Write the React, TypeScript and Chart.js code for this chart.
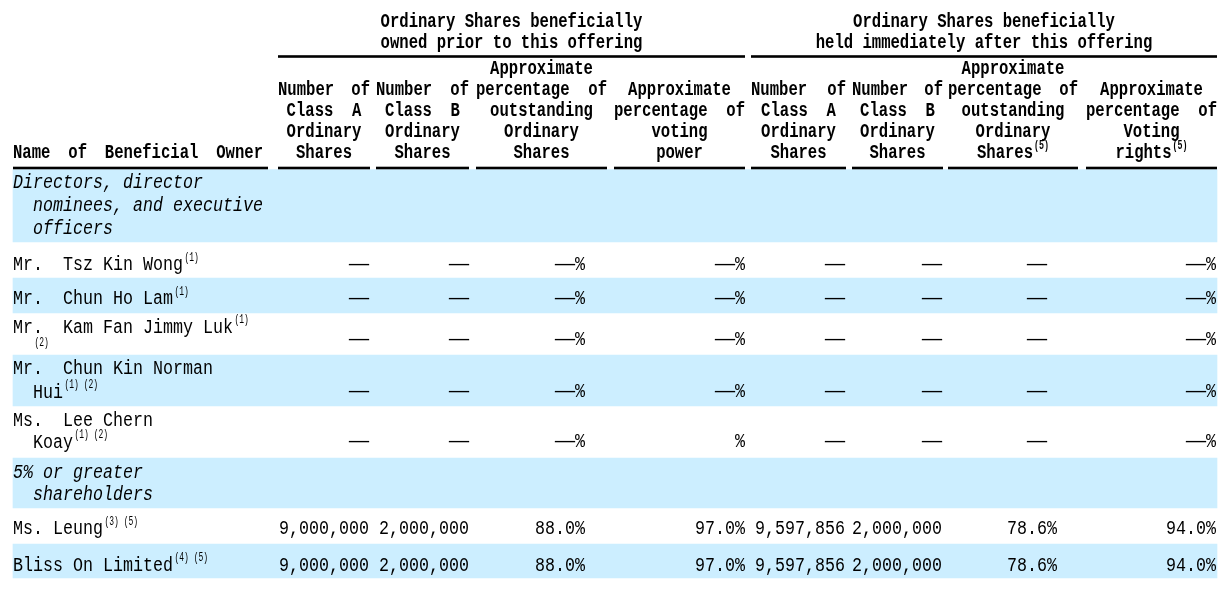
import React, { useEffect, useRef } from "react";
import { Chart, registerables } from "chart.js";

Chart.register(...registerables);

// ---------- DATA ----------
const groupTitles: string[][] = [
  ["Ordinary Shares beneficially", "owned prior to this offering"],
  ["Ordinary Shares beneficially", "held immediately after this offering"],
];

const columnTitles: string[][] = [
  ["Name of Beneficial Owner"],
  ["Number of", "Class  A", "Ordinary", "Shares"],
  ["Number of", "Class  B", "Ordinary", "Shares"],
  ["Approximate", "percentage of", "outstanding", "Ordinary", "Shares"],
  ["Approximate", "percentage of", "voting", "power"],
  ["Number of", "Class  A", "Ordinary", "Shares"],
  ["Number of", "Class  B", "Ordinary", "Shares"],
  ["Approximate", "percentage of", "outstanding", "Ordinary", "Shares"],
  ["Approximate", "percentage of", "Voting", "rights"],
];
const columnNotes: string[] = ["", "", "", "", "", "", "", "(5)", "(5)"];
const justifiedTitles: string[] = ["Name of Beneficial Owner", "Number of", "percentage of"];

const ownerNames: string[][] = [
  ["Directors, director", "  nominees, and executive", "  officers"],
  ["Mr.  Tsz Kin Wong"],
  ["Mr.  Chun Ho Lam"],
  ["Mr.  Kam Fan Jimmy Luk", "  "],
  ["Mr.  Chun Kin Norman", "  Hui"],
  ["Ms.  Lee Chern", "  Koay"],
  ["5% or greater", "  shareholders"],
  ["Ms. Leung"],
  ["Bliss On Limited"],
];
const ownerNotes: string[][] = [
  [],
  ["(1)"],
  ["(1)"],
  ["(1)", "(2)"],
  ["", "(1) (2)"],
  ["", "(1) (2)"],
  [],
  ["(3) (5)"],
  ["(4) (5)"],
];
const sectionRows: number[] = [0, 6];
const shadedRows: number[] = [0, 2, 4, 6, 8];

const ownerValues: string[][] = [
  [],
  ["—", "—", "—%", "—%", "—", "—", "—", "—%"],
  ["—", "—", "—%", "—%", "—", "—", "—", "—%"],
  ["—", "—", "—%", "—%", "—", "—", "—", "—%"],
  ["—", "—", "—%", "—%", "—", "—", "—", "—%"],
  ["—", "—", "—%", "%", "—", "—", "—", "—%"],
  [],
  ["9,000,000", "2,000,000", "88.0%", "97.0%", "9,597,856", "2,000,000", "78.6%", "94.0%"],
  ["9,000,000", "2,000,000", "88.0%", "97.0%", "9,597,856", "2,000,000", "78.6%", "94.0%"],
];

// ---------- LAYOUT (page pixel units) ----------
const PAGE = { left: 8, top: 8, width: 1211, height: 579 };
const tableSpan = [13, 1217];
const colSpans: number[][] = [
  [13, 268], [278, 370], [376, 469], [476, 607], [614, 745],
  [751, 846], [852, 943], [948, 1078], [1086, 1217],
];
const groupSpans: number[][] = [[278, 745], [751, 1217]];
const groupLineY = [20, 41];
const groupRuleY = 56.5;
const headRuleY = 168;
const ruleWidth = 2.6;
const headLastLineY = 151.5;
const headLineStep = 21;
const rowEdges = [169.5, 242, 278, 313, 355, 406, 458, 508, 544, 578];
const rowLineY: number[][] = [
  [181, 204, 227], [263.5], [297.5], [326, 348.5], [367.5, 391],
  [419, 441], [471, 493], [527.5], [564],
];
const rowValueY = [0, 263.5, 297.5, 338, 390, 440.5, 0, 527.5, 564];
const valueRight = [369, 469, 585, 745, 845, 942, 1057, 1216];
const percentCols = [false, false, true, true, false, false, true, true];
const nameLeft = 13;
const BAND_COLOR = "#cceeff";

type Spec = { size: number; cell: number; weight: string; style: string };
const BODY: Spec = { size: 20, cell: 10, weight: "normal", style: "normal" };
const BODY_IT: Spec = { size: 20, cell: 10, weight: "normal", style: "italic" };
const HEAD: Spec = { size: 20, cell: 9.35, weight: "bold", style: "normal" };
const SUP: Spec = { size: 12, cell: 4.8, weight: "normal", style: "normal" };
const HSUP: Spec = { size: 12, cell: 5, weight: "bold", style: "normal" };

const FAMILY = '"Liberation Mono", "DejaVu Sans Mono", monospace';

function fontOf(s: Spec) {
  return `${s.style} ${s.weight} ${s.size}px ${FAMILY}`;
}
function cells(s: string) {
  let n = 0;
  for (const ch of s) n += ch === "—" ? 2 : 1;
  return n;
}
function runWidth(s: string, spec: Spec) {
  return cells(s) * spec.cell;
}
function drawRun(ctx: CanvasRenderingContext2D, s: string, x: number, base: number, spec: Spec) {
  ctx.font = fontOf(spec);
  let cx = x;
  const parts = s.split(/(—)/).filter((p) => p.length > 0);
  for (const p of parts) {
    const w = runWidth(p, spec);
    const nat = ctx.measureText(p).width;
    if (nat > 0 && p.trim().length > 0) {
      ctx.save();
      ctx.translate(cx, base);
      ctx.scale(w / nat, 1);
      ctx.fillText(p, 0, 0);
      ctx.restore();
    }
    cx += w;
  }
  return cx;
}
function capBase(ctx: CanvasRenderingContext2D, center: number, spec: Spec) {
  ctx.font = fontOf(spec);
  const m = ctx.measureText("H");
  return center + m.actualBoundingBoxAscent / 2;
}
function supBase(ctx: CanvasRenderingContext2D, center: number, spec: Spec) {
  ctx.font = fontOf(spec);
  const m = ctx.measureText("(1)");
  return center + (m.actualBoundingBoxAscent - m.actualBoundingBoxDescent) / 2;
}

const tablePlugin = {
  id: "tableText",
  afterDatasetsDraw(chart: any) {
    const ctx: CanvasRenderingContext2D = chart.ctx;
    const xs = chart.scales.x;
    const ys = chart.scales.y;
    const X = (v: number) => xs.getPixelForValue(v);
    const Y = (v: number) => ys.getPixelForValue(v);
    ctx.save();
    ctx.fillStyle = "#000";
    ctx.textAlign = "left";
    ctx.textBaseline = "alphabetic";

    const rule = (a: number, b: number, y: number) => {
      ctx.fillRect(X(a), Y(y) - ruleWidth / 2, X(b) - X(a), ruleWidth);
    };
    groupSpans.forEach(([a, b]) => rule(a, b, groupRuleY));
    colSpans.forEach(([a, b]) => rule(a, b, headRuleY));

    groupTitles.forEach((lines, g) => {
      const [a, b] = groupSpans[g];
      const mid = (X(a) + X(b)) / 2;
      lines.forEach((line, k) => {
        const w = runWidth(line, HEAD);
        drawRun(ctx, line, mid - w / 2, capBase(ctx, Y(groupLineY[k]), HEAD), HEAD);
      });
    });

    columnTitles.forEach((lines, c) => {
      const [a, b] = colSpans[c];
      const left = X(a);
      const right = c === 0 ? X(b) - 5 : X(b);
      const n = lines.length;
      lines.forEach((line, k) => {
        const cy = Y(headLastLineY - (n - 1 - k) * headLineStep);
        const base = capBase(ctx, cy, HEAD);
        if (justifiedTitles.includes(line)) {
          const words = line.split(/\s+/);
          const total = words.reduce((s, w) => s + runWidth(w, HEAD), 0);
          const gap = (right - left - total) / (words.length - 1);
          let x = left;
          words.forEach((w) => {
            drawRun(ctx, w, x, base, HEAD);
            x += runWidth(w, HEAD) + gap;
          });
        } else {
          const note = k === n - 1 ? columnNotes[c] : "";
          const w = runWidth(line, HEAD) + (note ? runWidth(note, HSUP) + 1 : 0);
          const x0 = (left + right) / 2 - w / 2;
          const end = drawRun(ctx, line, x0, base, HEAD);
          if (note) drawRun(ctx, note, end + 1, supBase(ctx, cy - 6, HSUP), HSUP);
        }
      });
    });

    ownerNames.forEach((lines, r) => {
      const spec = sectionRows.includes(r) ? BODY_IT : BODY;
      lines.forEach((line, k) => {
        const cy = Y(rowLineY[r][k]);
        const end = drawRun(ctx, line, X(nameLeft), capBase(ctx, cy, spec), spec);
        const note = (ownerNotes[r] || [])[k];
        if (note) drawRun(ctx, note, end + 1.5, supBase(ctx, cy - 6, SUP), SUP);
      });
      ownerValues[r].forEach((v, c) => {
        const cy = Y(rowValueY[r]);
        let right = X(valueRight[c]);
        if (percentCols[c] && !v.endsWith("%")) right -= BODY.cell;
        const w = runWidth(v, BODY);
        drawRun(ctx, v, right - w, capBase(ctx, cy, BODY), BODY);
      });
    });
    ctx.restore();
  },
};

export default function App() {
  const ref = useRef<HTMLCanvasElement | null>(null);
  useEffect(() => {
    if (!ref.current) return;
    const bands = shadedRows.map((r) => ({
      x: (tableSpan[0] + tableSpan[1]) / 2,
      y: [rowEdges[r], rowEdges[r + 1]],
    }));
    const chart = new Chart(ref.current, {
      type: "bar",
      data: {
        datasets: [
          {
            label: "rows",
            data: bands as any,
            backgroundColor: BAND_COLOR,
            borderWidth: 0,
            barThickness: tableSpan[1] - tableSpan[0],
          } as any,
        ],
      },
      options: {
        responsive: false,
        animation: false,
        events: [],
        layout: { padding: 0 },
        plugins: { legend: { display: false }, tooltip: { enabled: false }, title: { display: false } },
        scales: {
          x: { type: "linear", min: PAGE.left, max: PAGE.left + PAGE.width, display: false, offset: false },
          y: { type: "linear", min: PAGE.top, max: PAGE.top + PAGE.height, reverse: true, display: false, offset: false },
        },
      } as any,
      plugins: [tablePlugin],
    });
    return () => chart.destroy();
  }, []);
  return (
    <canvas
      ref={ref}
      width={PAGE.width}
      height={PAGE.height}
      style={{ display: "block", width: PAGE.width, height: PAGE.height }}
    />
  );
}
